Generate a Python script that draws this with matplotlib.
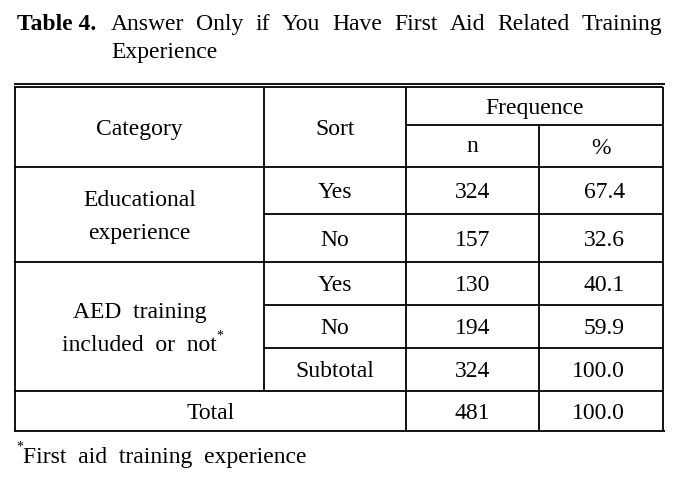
import matplotlib
matplotlib.use("Agg")
import matplotlib.pyplot as plt

# ---------------------------------------------------------------------------
# Данные таблицы
# ---------------------------------------------------------------------------
title_label = "Table 4."
title_line1 = "Answer Only if You Have First Aid Related Training"
title_line2 = "Experience"

header_category = "Category"
header_sort = "Sort"
header_freq = "Frequence"
header_n = "n"
header_pct = "%"

categories = [["Educational", "experience"], ["AED  training", "included  or  not"]]
category_rows = [2, 3]
sorts = ["Yes", "No", "Yes", "No", "Subtotal"]
n_values = [324, 157, 130, 194, 324]
pct_values = [67.4, 32.6, 40.1, 59.9, 100.0]
total_label = "Total"
total_n = 481
total_pct = 100.0
footnote = "First  aid  training  experience"

# ---------------------------------------------------------------------------
W, H = 677, 479
fig = plt.figure(figsize=(W / 100, H / 100), dpi=100)
ax = fig.add_axes([0, 0, 1, 1])
ax.set_xlim(0, W)
ax.set_ylim(H, 0)
ax.axis("off")

FONT = "Liberation Serif"
FS = 17
LW = 1.3
CAP = 0.66 * FS * 100 / 72  # высота прописных, px

cols = [15, 264, 406, 539, 663]
row_top = 87
row_sub = 125
row_head = 167
row_lines = [167, 214, 262, 305, 348, 391, 431]


def hline(y, x0, x1, lw=LW):
    ax.plot([x0, x1], [y, y], color="black", lw=lw, solid_capstyle="butt")


def vline(x, y0, y1, lw=LW):
    ax.plot([x, x], [y0, y1], color="black", lw=lw, solid_capstyle="butt")


def txt(x, yc, s, ha="center", dy=None, **kw):
    # yc - центр прописных букв
    off = CAP / 2 if dy is None else dy
    return ax.text(x, yc + off, s, ha=ha, va="baseline", family=FONT,
                   fontsize=FS, **kw)


# двойная верхняя линия
hline(84, 14, 665)
hline(row_top, 14, 663)
hline(row_sub, cols[2], cols[4])
hline(row_head, 14, 663)

starts = [0]
for k in category_rows[:-1]:
    starts.append(starts[-1] + k)
group_ends = [s + k for s, k in zip(starts, category_rows)]
for i in range(1, len(sorts) + 1):
    y = row_lines[i]
    if i in group_ends:
        hline(y, 14, 663)
    else:
        hline(y, cols[1], cols[4])
hline(row_lines[-1], 14, 665)

bottom = row_lines[-1]
vline(cols[0], row_top, bottom)
vline(cols[1], row_top, row_lines[-2])
vline(cols[2], row_top, bottom)
vline(cols[3], row_sub, bottom)
vline(cols[4], row_top, bottom)

# заголовки
txt((cols[0] + cols[1]) / 2, (row_top + row_head) / 2, header_category)
txt((cols[1] + cols[2]) / 2, (row_top + row_head) / 2, header_sort)
txt((cols[2] + cols[4]) / 2, (row_top + row_sub) / 2, header_freq)
txt((cols[2] + cols[3]) / 2, (row_sub + row_head) / 2, header_n, dy=6)
txt((cols[3] + cols[4]) / 2, (row_sub + row_head) / 2, header_pct)

fig.canvas.draw()
renderer = fig.canvas.get_renderer()
inv = ax.transData.inverted()

# категории (две строки)
for idx, (cat, s, k) in enumerate(zip(categories, starts, category_rows)):
    yc = (row_lines[s] + row_lines[s + k]) / 2
    xc = (cols[0] + cols[1]) / 2
    txt(xc, yc - 16.5, cat[0])
    t2 = txt(xc, yc + 16.5, cat[1])
    if idx == 1:
        bb = t2.get_window_extent(renderer)
        x_end = inv.transform((bb.x1, bb.y1))[0]
        ax.text(x_end - 1, yc + 16.5 - CAP / 2 + 1, "*", ha="left",
                va="center", family=FONT, fontsize=10)

# значения
for i in range(len(sorts)):
    yc = (row_lines[i] + row_lines[i + 1]) / 2
    txt((cols[1] + cols[2]) / 2, yc, sorts[i])
    txt((cols[2] + cols[3]) / 2, yc, f"{n_values[i]}")
    txt(625, yc, f"{pct_values[i]:.1f}", ha="right")

yc = (row_lines[-2] + row_lines[-1]) / 2
txt((cols[0] + cols[2]) / 2, yc, total_label)
txt((cols[2] + cols[3]) / 2, yc, f"{total_n}")
txt(625, yc, f"{total_pct:.1f}", ha="right")

# сноска
ax.text(16, 447, "*", ha="left", va="center", family=FONT, fontsize=10)
txt(23, 455, footnote, ha="left")

# заголовок таблицы (выравнивание по ширине)
txt(17, 22, title_label, ha="left", fontweight="bold")
words = title_line1.split()
artists = []
widths = []
for w in words:
    t = txt(0, 22, w, ha="left")
    bb = t.get_window_extent(renderer)
    artists.append(t)
    widths.append(bb.width)
x_start, x_end = 111, 662
gap = (x_end - x_start - sum(widths)) / (len(words) - 1)
x = x_start
for t, wd in zip(artists, widths):
    t.set_x(x)
    x += wd + gap
txt(x_start, 50, title_line2, ha="left")

fig.savefig("out.png", dpi=100)
